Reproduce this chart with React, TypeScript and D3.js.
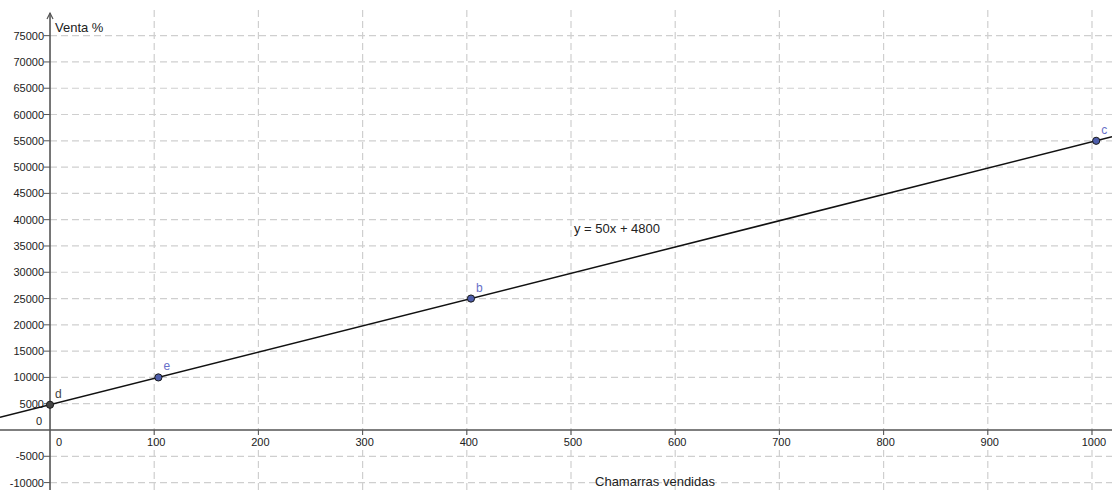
import React from "react";
import * as d3 from "d3";

const W = 1112;
const H = 490;

const xTicks = [0, 100, 200, 300, 400, 500, 600, 700, 800, 900, 1000];
const yTicks = [-10000, -5000, 0, 5000, 10000, 15000, 20000, 25000, 30000, 35000, 40000, 45000, 50000, 55000, 60000, 65000, 70000, 75000];
const pointNames = ["d", "e", "b", "c"];
const pointX = [0, 104, 404, 1004];
const pointY = [4800, 10000, 25000, 55000];
const slope = 50;
const intercept = 4800;
const equationLabel = "y = 50x + 4800";
const xTitle = "Chamarras vendidas";
const yTitle = "Venta %";

export default function App() {
  const x = d3.scaleLinear().domain([-48, 1019.2]).range([0, W]);
  const y = d3.scaleLinear().domain([-11411, 81780]).range([H, 0]);
  const x0 = x(0);
  const y0 = y(0);
  const font = "Liberation Sans, Arial, sans-serif";
  const gridColor = "#cfcfcf";
  const axisColor = "#555";
  const lineGen = d3.line<number>().x((v) => x(v)).y((v) => y(slope * v + intercept));
  const xs = [x.invert(0), x.invert(W)];
  return (
    <svg width={W} height={H} style={{ position: "absolute", left: 0, top: 0, background: "#fff" }} fontFamily={font}>
      {/* vertical grid */}
      {xTicks.filter((t) => t !== 0).map((t) => (
        <line key={"vg" + t} x1={x(t)} x2={x(t)} y1={10} y2={H} stroke={gridColor} strokeWidth={1.2} strokeDasharray="7,4" />
      ))}
      {/* horizontal grid */}
      {yTicks.filter((t) => t !== 0).map((t) => (
        <line key={"hg" + t} x1={x0} x2={W} y1={y(t)} y2={y(t)} stroke={gridColor} strokeWidth={1.2} strokeDasharray="7,4" />
      ))}
      {/* axes */}
      <line x1={0} x2={W} y1={y0} y2={y0} stroke={axisColor} strokeWidth={1.6} />
      <line x1={x0} x2={x0} y1={13} y2={H} stroke={axisColor} strokeWidth={1.6} />
      <path d={`M${x0 - 3},${19} L${x0},${13} L${x0 + 3},${19}`} fill="none" stroke={axisColor} strokeWidth={1.2} />
      {/* y ticks */}
      {yTicks.map((t) => (
        <g key={"yt" + t}>
          {t !== 0 && <line x1={x0 - 6} x2={x0} y1={y(t)} y2={y(t)} stroke={axisColor} strokeWidth={1} />}
          <text x={t === 0 ? x0 - 8 : x0 - 6} y={t === 0 ? y0 - 5 : y(t) + 4} textAnchor="end" fontSize={11} fill="#222">
            {t}
          </text>
        </g>
      ))}
      {/* x ticks */}
      {xTicks.map((t) => (
        <g key={"xt" + t}>
          {t !== 0 && <line x1={x(t)} x2={x(t)} y1={y0} y2={y0 + 5} stroke={axisColor} strokeWidth={1} />}
          <text x={t === 0 ? x0 + 9 : x(t) + 2} y={y0 + 16} textAnchor="middle" fontSize={11} fill="#222">
            {t}
          </text>
        </g>
      ))}
      {/* titles */}
      <text x={x0 + 5} y={32} fontSize={13} fill="#222">{yTitle}</text>
      <text x={655} y={486} textAnchor="middle" fontSize={13} fill="#222">{xTitle}</text>
      {/* line */}
      <path d={lineGen(xs) || ""} fill="none" stroke="#111" strokeWidth={1.5} />
      <text x={574} y={233} fontSize={13} fill="#222">{equationLabel}</text>
      {/* points */}
      {pointNames.map((n, i) => (
        <g key={n}>
          <circle cx={x(pointX[i])} cy={y(pointY[i])} r={3.6}
            fill={n === "d" ? "#444" : "#4d5dab"} stroke="#1a1a1a" strokeWidth={1} />
          <text x={x(pointX[i]) + 5} y={y(pointY[i]) - 7} fontSize={12}
            fill={n === "d" ? "#444" : "#6870c8"}>{n}</text>
        </g>
      ))}
    </svg>
  );
}
